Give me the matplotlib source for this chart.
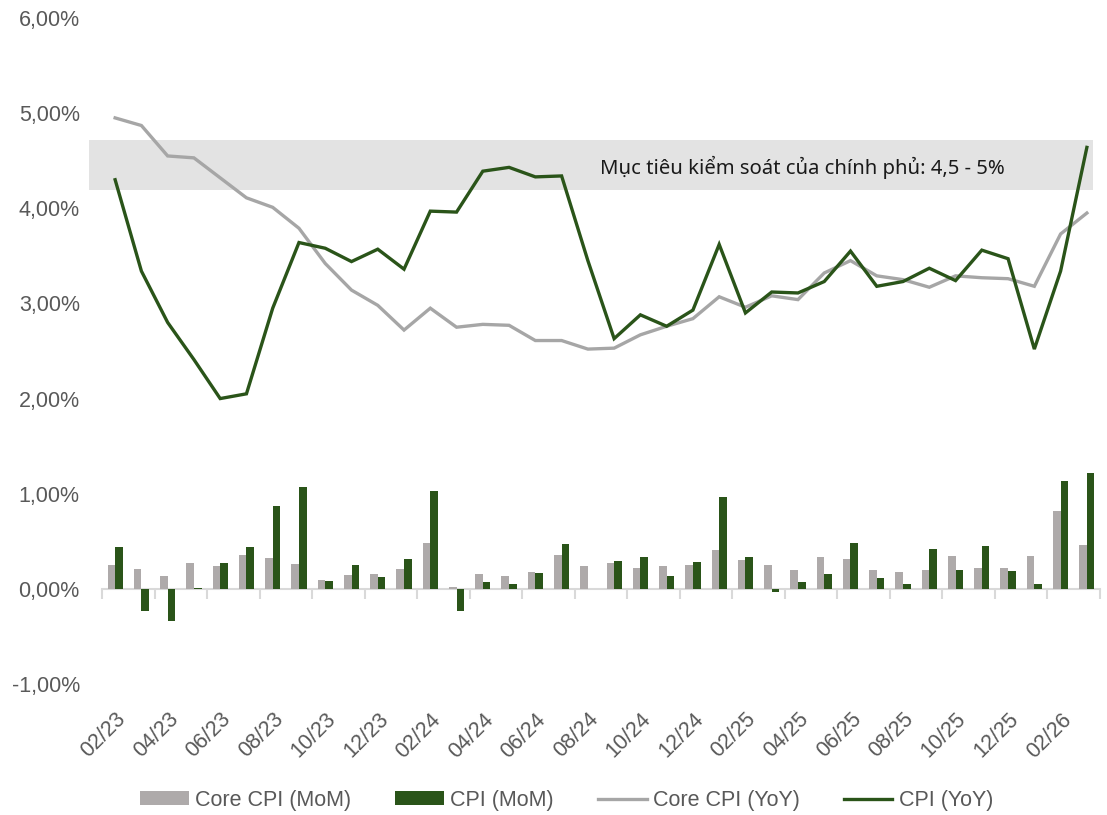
import matplotlib
matplotlib.use("Agg")
import matplotlib.pyplot as plt
import numpy as np
from matplotlib.patches import Patch, Rectangle
from matplotlib.lines import Line2D

# Months 02/23 .. 03/26
months = [f"{m:02d}/{y % 100:02d}" for y in (2023, 2024, 2025, 2026)
          for m in range(1, 13)][1:39]

core_mom = [0.25, 0.21, 0.13, 0.27, 0.24, 0.36, 0.32, 0.26, 0.09, 0.15,
            0.16, 0.21, 0.48, 0.02, 0.16, 0.14, 0.18, 0.36, 0.24, 0.27,
            0.22, 0.24, 0.25, 0.41, 0.30, 0.25, 0.20, 0.33, 0.31, 0.20,
            0.18, 0.20, 0.35, 0.22, 0.22, 0.35, 0.82, 0.46]
cpi_mom = [0.44, -0.23, -0.34, 0.01, 0.27, 0.44, 0.87, 1.07, 0.08, 0.25,
           0.12, 0.31, 1.03, -0.23, 0.07, 0.05, 0.17, 0.47, 0.00, 0.29,
           0.33, 0.13, 0.28, 0.97, 0.34, -0.03, 0.07, 0.16, 0.48, 0.11,
           0.05, 0.42, 0.20, 0.45, 0.19, 0.05, 1.13, 1.22]
core_yoy = [4.95, 4.87, 4.55, 4.53, 4.32, 4.11, 4.01, 3.79, 3.42, 3.14,
            2.98, 2.72, 2.95, 2.75, 2.78, 2.77, 2.61, 2.61, 2.52, 2.53,
            2.67, 2.76, 2.84, 3.07, 2.96, 3.08, 3.04, 3.32, 3.45, 3.29,
            3.25, 3.17, 3.29, 3.27, 3.26, 3.18, 3.73, 3.95]
cpi_yoy = [4.30, 3.34, 2.80, 2.41, 2.00, 2.05, 2.95, 3.64, 3.58, 3.44,
           3.57, 3.36, 3.97, 3.96, 4.39, 4.43, 4.33, 4.34, 3.45, 2.63,
           2.88, 2.76, 2.93, 3.62, 2.90, 3.12, 3.11, 3.23, 3.55, 3.18,
           3.23, 3.37, 3.24, 3.56, 3.47, 2.52, 3.34, 4.64]

target_text = "Mục tiêu kiểm soát của chính phủ: 4,5 - 5%"
band_low, band_high = 4.19, 4.72
y_ticks = [-1, 0, 1, 2, 3, 4, 5, 6]

GRAY_BAR = "#AEAAAA"
GREEN = "#2A5419"
GRAY_LINE = "#A6A6A6"
TEXT = "#595959"
AXIS = "#D9D9D9"

plt.rcParams["font.family"] = ["Liberation Sans", "DejaVu Sans"]

fig = plt.figure(figsize=(11.07, 8.15), dpi=100)
ax = fig.add_axes([102 / 1107, 131 / 815, 998 / 1107, 666 / 815])

x = np.arange(len(months))
bw = 0.29

# Target band with its caption
ax.add_patch(Rectangle((-0.98, band_low), 38.2, band_high - band_low,
                       facecolor="#E3E3E3", edgecolor="none", zorder=0,
                       clip_on=False))
ax.text(18.48, (band_low + band_high) / 2 - 0.03, target_text,
        ha="left", va="center", fontsize=14.6,
        family=["Noto Sans", "DejaVu Sans"], color="#1A1A1A", zorder=5)

ax.bar(x - bw / 2, core_mom, width=bw, color=GRAY_BAR, zorder=2,
       label="Core CPI (MoM)")
ax.bar(x + bw / 2, cpi_mom, width=bw, color=GREEN, zorder=2,
       label="CPI (MoM)")
ax.plot(x, core_yoy, color=GRAY_LINE, lw=2.4, zorder=3,
        solid_joinstyle="miter", label="Core CPI (YoY)")
ax.plot(x, cpi_yoy, color=GREEN, lw=2.4, zorder=4,
        solid_joinstyle="miter", label="CPI (YoY)")

ax.set_xlim(-0.5, len(months) - 0.5)
ax.set_ylim(-1, 6)

for s in ax.spines.values():
    s.set_visible(False)

ax.set_yticks(y_ticks)
ax.set_yticklabels([f"{v:.2f}%".replace(".", ",") for v in y_ticks])
ax.tick_params(axis="y", length=0, pad=16, labelsize=15.5, labelcolor=TEXT)

ax.set_xticks(x[::2])
ax.set_xticklabels(months[::2], rotation=45, ha="right",
                   rotation_mode="anchor")
ax.tick_params(axis="x", length=0, pad=18, labelsize=15.5, labelcolor=TEXT)

# Category axis drawn along the zero line
zero_axis = ax.secondary_xaxis(1 / 7)
zero_axis.set_xticks(np.arange(-0.5, len(months), 2))
zero_axis.tick_params(axis="x", direction="out", length=7, width=1.5,
                      color=AXIS, labelbottom=False, labeltop=False)
zero_axis.spines["bottom"].set_color(AXIS)
zero_axis.spines["bottom"].set_linewidth(1.5)
for k in ("top", "left", "right"):
    zero_axis.spines[k].set_visible(False)

handles = [
    Patch(facecolor=GRAY_BAR, edgecolor="none", label="Core CPI (MoM)"),
    Patch(facecolor=GREEN, edgecolor="none", label="CPI (MoM)"),
    Line2D([], [], color=GRAY_LINE, lw=2.4, label="Core CPI (YoY)"),
    Line2D([], [], color=GREEN, lw=2.4, label="CPI (YoY)"),
]
leg = fig.legend(handles=handles, loc="center", bbox_to_anchor=(0.512, 0.018),
                 ncol=4, frameon=False, fontsize=15.5, handlelength=2.25,
                 handleheight=0.63, handletextpad=0.3, columnspacing=2.05)
for t in leg.get_texts():
    t.set_color(TEXT)

fig.savefig("out.png", dpi=100)
